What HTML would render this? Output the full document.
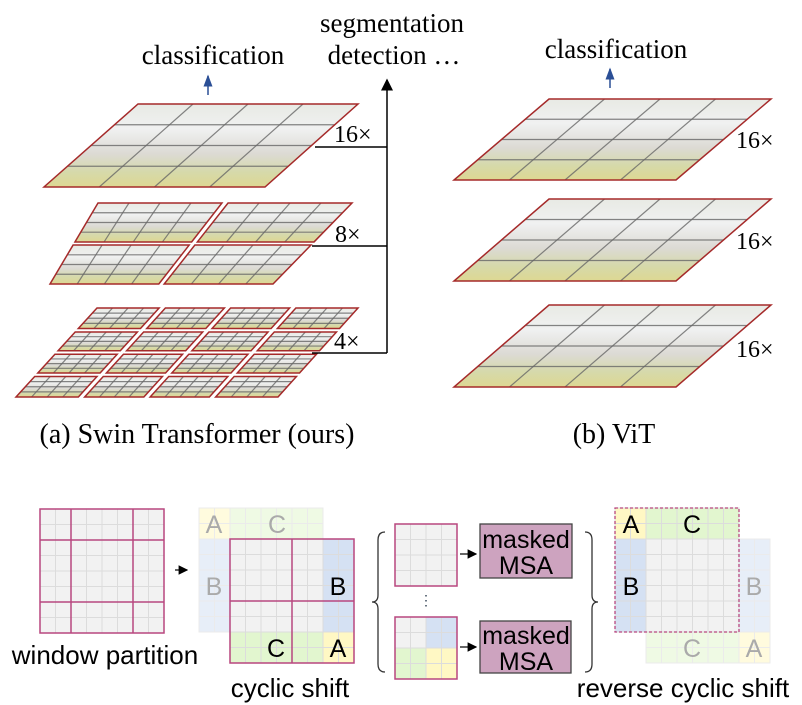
<!DOCTYPE html>
<html><head><meta charset="utf-8"><style>
body{margin:0;background:#fff;}
svg{display:block;}
.serif{font-family:"Liberation Serif",serif;}
.sans{font-family:"Liberation Sans",sans-serif;}
</style></head><body>
<svg id="s" width="802" height="705" viewBox="0 0 802 705" xmlns="http://www.w3.org/2000/svg">
<defs>
<linearGradient id="img" x1="0" y1="0" x2="0" y2="1">
<stop offset="0" stop-color="#e8eae4"/><stop offset="0.3" stop-color="#f0f1f1"/>
<stop offset="0.6" stop-color="#dcdad4"/><stop offset="0.82" stop-color="#d6d9aa"/><stop offset="1" stop-color="#ddd892"/>
</linearGradient>
<marker id="ah" markerWidth="8" markerHeight="8" refX="7" refY="4" orient="auto"><path d="M0,0 L8,4 L0,8 Z" fill="#000"/></marker>
<marker id="ahb" markerWidth="8" markerHeight="8" refX="7" refY="4" orient="auto"><path d="M0,1 L8,4 L0,7 Z" fill="#2b4f96"/></marker>
</defs>
<g id="layers"></g>
<g id="bottom"></g>

<text class="serif" x="213" y="64" font-size="27" text-anchor="middle">classification</text>
<line x1="208" y1="95" x2="208" y2="76" stroke="#2b4f96" stroke-width="1.5" marker-end="url(#ahb)"/>
<text class="serif" x="392" y="32" font-size="27" text-anchor="middle">segmentation</text>
<text class="serif" x="394" y="64" font-size="27" text-anchor="middle">detection …</text>
<line x1="387" y1="353" x2="387" y2="80" stroke="#000" stroke-width="1.5" marker-end="url(#ah)"/>
<line x1="315" y1="147" x2="387" y2="147" stroke="#000" stroke-width="1.5"/>
<line x1="312" y1="246" x2="387" y2="246" stroke="#000" stroke-width="1.5"/>
<line x1="312" y1="353" x2="387" y2="353" stroke="#000" stroke-width="1.5"/>
<text class="serif" x="334" y="142" font-size="24">16×</text>
<text class="serif" x="335" y="242" font-size="24">8×</text>
<text class="serif" x="334" y="349" font-size="24">4×</text>
<text class="serif" x="197" y="443" font-size="28" text-anchor="middle">(a) Swin Transformer (ours)</text>
<text class="serif" x="616" y="58" font-size="27" text-anchor="middle">classification</text>
<line x1="610" y1="88" x2="610" y2="69" stroke="#2b4f96" stroke-width="1.5" marker-end="url(#ahb)"/>
<text class="serif" x="736" y="148" font-size="24">16×</text>
<text class="serif" x="736" y="249" font-size="24">16×</text>
<text class="serif" x="736" y="357" font-size="24">16×</text>
<text class="serif" x="614" y="443" font-size="28" text-anchor="middle">(b) ViT</text>

<text class="sans" x="105" y="664" font-size="26" text-anchor="middle">window partition</text>
<text class="sans" x="290" y="697" font-size="26" text-anchor="middle">cyclic shift</text>
<text class="sans" x="683" y="697" font-size="26" text-anchor="middle">reverse cyclic shift</text>
<line x1="175" y1="570" x2="187" y2="570" stroke="#000" stroke-width="1.2" marker-end="url(#ah)"/>
<line x1="460" y1="554" x2="476" y2="554" stroke="#000" stroke-width="1.2" marker-end="url(#ah)"/>
<line x1="460" y1="647" x2="476" y2="647" stroke="#000" stroke-width="1.2" marker-end="url(#ah)"/>
<path d="M385,532 Q378,532 378,540 L378,595 Q378,602 372,602 Q378,602 378,609 L378,664 Q378,672 385,672" fill="none" stroke="#333" stroke-width="1.3"/>
<path d="M585,532 Q592,532 592,540 L592,595 Q592,602 598,602 Q592,602 592,609 L592,664 Q592,672 585,672" fill="none" stroke="#333" stroke-width="1.3"/>
<text class="sans" x="426" y="605" font-size="14" text-anchor="middle" fill="#345">⋮</text>
<rect x="480" y="524" width="92" height="54" fill="#cda3bf" stroke="#444" stroke-width="1.3"/>
<text class="sans" x="526" y="548" font-size="25" text-anchor="middle">masked</text>
<text class="sans" x="526" y="574" font-size="25" text-anchor="middle">MSA</text>
<rect x="480" y="621" width="91" height="52" fill="#cda3bf" stroke="#444" stroke-width="1.3"/>
<text class="sans" x="526" y="644" font-size="25" text-anchor="middle">masked</text>
<text class="sans" x="526" y="670" font-size="25" text-anchor="middle">MSA</text>
</svg>
<script>
const NS="http://www.w3.org/2000/svg";
const L=document.getElementById('layers'), B=document.getElementById('bottom');
function mk(tag,attrs,parent){const e=document.createElementNS(NS,tag);for(const k in attrs)e.setAttribute(k,attrs[k]);parent.appendChild(e);return e;}
function qp(q,u,v){const [a,b,c,d]=q;const tx=a[0]+(b[0]-a[0])*u, ty=a[1]+(b[1]-a[1])*u;const bx=d[0]+(c[0]-d[0])*u, by=d[1]+(c[1]-d[1])*u;return [tx+(bx-tx)*v, ty+(by-ty)*v];}
function piece(q,u0,u1,v0,v1,n,name){
  const p=[qp(q,u0,v0),qp(q,u1,v0),qp(q,u1,v1),qp(q,u0,v1)];
  const g=mk('g',{},L);
  
  
  mk('polygon',{points:p.map(x=>x.join(',')).join(' '),fill:'url(#img)'},g);
  for(let i=1;i<n;i++){const t=i/n;
    const a=qp(q,u0+(u1-u0)*t,v0),b=qp(q,u0+(u1-u0)*t,v1);
    mk('line',{x1:a[0],y1:a[1],x2:b[0],y2:b[1],stroke:'#666','stroke-width':1.2,'stroke-opacity':0.8},g);
    const c=qp(q,u0,v0+(v1-v0)*t),d=qp(q,u1,v0+(v1-v0)*t);
    mk('line',{x1:c[0],y1:c[1],x2:d[0],y2:d[1],stroke:'#666','stroke-width':1.2,'stroke-opacity':0.8},g);}
  mk('polygon',{points:p.map(x=>x.join(',')).join(' '),fill:'none',stroke:'#a52a2a','stroke-width':1.5},g);
}
function layer(q,k,name){const gap=0.012*(k>1?1:0);
  for(let i=0;i<k;i++)for(let j=0;j<k;j++)
    piece(q,i/k+(i?gap:0),(i+1)/k-(i<k-1?gap:0),j/k+(j?gap*1.6:0),(j+1)/k-(j<k-1?gap*1.6:0),4,name+'-'+i+'-'+j);}
layer([[138,104],[358,104],[265,187],[44,187]],1,'swin-layer-16x');
layer([[98,203],[352,203],[273,284],[50,284]],2,'swin-layer-8x');
layer([[97,308],[358,308],[278,397],[16,397]],4,'swin-layer-4x');
[[99,180],[199,281],[305,387]].forEach((y,i)=>layer([[549,y[0]],[771,y[0]],[676,y[1]],[454,y[1]]],1,'vit-layer-'+(i+1)));

function grid(x,y,n,cs,fills,op,name){
  const g=mk('g',{opacity:op},B);
  
  
  for(let r=0;r<n;r++)for(let c=0;c<n;c++){
    const f=fills(r,c); if(!f)continue;
    mk('rect',{x:x+c*cs,y:y+r*cs,width:cs,height:cs,fill:f,stroke:'#dcdcdc','stroke-width':1},g);}
  return g;}
const gray='#f2f2f2',yel='#fff8c4',grn='#e2f6cf',blu='#d5e1f3';
const cs=15.5;
grid(40,509,8,cs,()=>gray,1,'window-partition-grid');
function mag(x1,y1,x2,y2){mk('line',{x1,y1,x2,y2,stroke:'#b8477f','stroke-width':1.5},B);}
mk('rect',{x:40,y:509,width:124,height:124,fill:'none',stroke:'#b8477f','stroke-width':1.5},B);
mag(71,509,71,633);mag(133,509,133,633);mag(40,540,164,540);mag(40,602,164,602);
grid(199,508,8,cs,(r,c)=>{if(r<2&&c<2)return yel;if(r<2)return grn;if(c<2)return blu;return null;},0.55,'cyclic-shift-faded-regions');
grid(230,539,8,cs,(r,c)=>{if(r>=6&&c>=6)return yel;if(r>=6)return grn;if(c>=6)return blu;return gray;},1,'cyclic-shift-grid');
mk('rect',{x:230,y:539,width:124,height:124,fill:'none',stroke:'#b8477f','stroke-width':1.5},B);
mag(292,539,292,663);mag(230,601,354,601);
grid(395,524,4,cs,()=>gray,1,'window-grid-1');
mk('rect',{x:395,y:524,width:62,height:62,fill:'none',stroke:'#b8477f','stroke-width':1.5},B);
grid(395,617,4,cs,(r,c)=>{if(r<2&&c<2)return gray;if(r<2)return blu;if(c<2)return grn;return yel;},1,'window-grid-2');
mk('rect',{x:395,y:617,width:62,height:62,fill:'none',stroke:'#b8477f','stroke-width':1.5},B);
grid(646,539,8,cs,(r,c)=>{if(r>=6&&c>=6)return yel;if(r>=6)return grn;if(c>=6)return blu;return null;},0.55,'reverse-faded-regions');
grid(615,508,8,cs,(r,c)=>{if(r<2&&c<2)return yel;if(r<2)return grn;if(c<2)return blu;return gray;},1,'reverse-shift-grid');
mk('rect',{x:615,y:508,width:124,height:124,fill:'none',stroke:'#b8477f','stroke-width':1.3,'stroke-dasharray':'3,2'},B);
function lt(x,y,t,c,name){const e=mk('text',{x,y,'font-size':25,'text-anchor':'middle',fill:c,'font-family':'Liberation Sans, sans-serif'},B);e.textContent=t;
  
  }
lt(214,533,'A','#aaa','faded-a-1');lt(277,533,'C','#aaa','faded-c-1');lt(214,595,'B','#aaa','faded-b-1');
lt(338,595,'B','#000','label-b-1');lt(276,657,'C','#000','label-c-1');lt(338,657,'A','#000','label-a-1');
lt(631,533,'A','#000','label-a-2');lt(692,533,'C','#000','label-c-2');lt(631,595,'B','#000','label-b-2');
lt(754,595,'B','#aaa','faded-b-2');lt(692,657,'C','#aaa','faded-c-2');lt(754,657,'A','#aaa','faded-a-2');
</script>
</body></html>
